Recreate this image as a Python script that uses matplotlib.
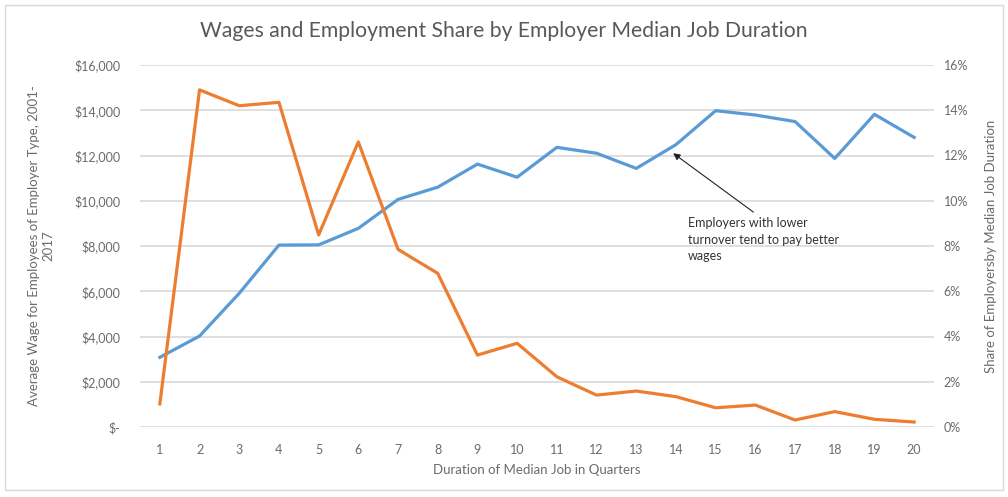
import matplotlib
matplotlib.use("Agg")
import matplotlib.pyplot as plt
from matplotlib.patches import Rectangle

plt.rcParams['font.family'] = ['Lato', 'DejaVu Sans']

quarters = list(range(1, 21))
wages = [3080, 4020, 5910, 8040, 8050, 8780, 10060, 10600, 11620, 11040,
         12360, 12100, 11430, 12480, 13980, 13790, 13500, 11870, 13820, 12800]
share = [1.02, 14.9, 14.2, 14.35, 8.49, 12.6, 7.85, 6.79, 3.18, 3.7,
         2.22, 1.41, 1.59, 1.34, 0.85, 0.97, 0.31, 0.68, 0.34, 0.22]

wage_ticks = list(range(0, 16001, 2000))
wage_labels = ['$-'] + ['${:,}'.format(v) for v in wage_ticks[1:]]
share_ticks = list(range(0, 17, 2))
share_labels = ['{}%'.format(v) for v in share_ticks]

blue = '#5B9BD5'
orange = '#ED7D31'
txt = '#6b6b6b'
grid = '#d9d9d9'

fig = plt.figure(figsize=(10.08, 4.97), dpi=100)
ax = fig.add_axes([140 / 1008, 1 - 427 / 497, (934 - 140) / 1008, (427 - 65) / 497])
ax2 = ax.twinx()

ax.plot(quarters, wages, color=blue, lw=2.3, solid_joinstyle='round', zorder=3)
ax2.plot(quarters, share, color=orange, lw=2.3, solid_joinstyle='round', zorder=3)

ax.set_xlim(0.5, 20.5)
ax.set_ylim(0, 16000)
ax2.set_ylim(0, 16)
ax.set_xticks(quarters)
ax.set_xticklabels([str(q) for q in quarters])
ax.set_yticks(wage_ticks)
ax.set_yticklabels(wage_labels)
ax2.set_yticks(share_ticks)
ax2.set_yticklabels(share_labels)

ax.grid(axis='y', color=grid, lw=1.2)
ax.set_axisbelow(True)
for a in (ax, ax2):
    for s in a.spines.values():
        s.set_visible(False)
    a.tick_params(length=0, colors=txt, labelsize=9)
ax.tick_params(axis='y', pad=14)
ax.tick_params(axis='x', pad=12)
ax2.tick_params(axis='y', pad=7)

ax.set_xlabel('Duration of Median Job in Quarters', color=txt, fontsize=9.5, labelpad=6)
ax.set_ylabel('Average Wage for Employees of Employer Type, 2001-\n2017',
              color=txt, fontsize=9.5, labelpad=14, linespacing=1.3)
ax2.set_ylabel('Share of Employersby Median Job Duration', color=txt,
               fontsize=9.5, labelpad=12)

fig.suptitle('Wages and Employment Share by Employer Median Job Duration',
             y=1 - 31 / 497, va='center', color='#595959', fontsize=15.2)

ax.annotate('', xy=(13.93, 12100), xytext=(15.95, 9500),
            arrowprops=dict(arrowstyle='-|>', color='#222222', lw=0.8,
                            mutation_scale=10, shrinkA=0, shrinkB=0))
ax.text(14.3, 9280, 'Employers with lower\nturnover tend to pay better\nwages',
        color='#333333', fontsize=9, va='top', ha='left', linespacing=1.45)

fig.patches.append(Rectangle((5 / 1008, 7 / 497), 998 / 1008, 485 / 497,
                             transform=fig.transFigure, fill=False,
                             edgecolor=grid, lw=1))

fig.savefig('out.png', dpi=100)
